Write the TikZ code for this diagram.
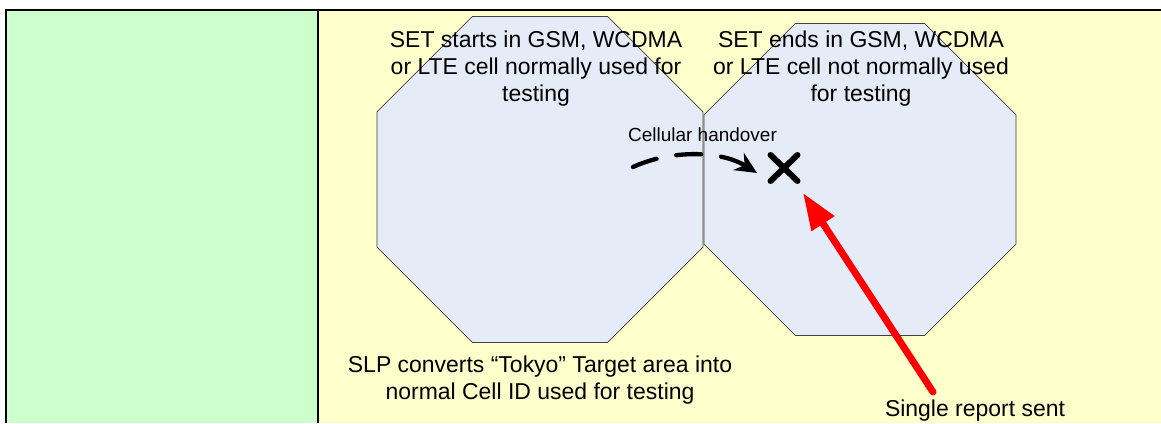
\documentclass[tikz,border=0pt]{standalone}
\usepackage{fontspec}
\setmainfont{Liberation Sans}
\usetikzlibrary{shapes.geometric,shapes.misc,arrows.meta}
\definecolor{cellfill}{HTML}{E5EBF7}
\definecolor{stepgreen}{HTML}{CCFFCC}
\definecolor{stepyellow}{HTML}{FFFFCC}

\begin{document}
\begin{tikzpicture}[x=0.03cm,y=-0.03cm,
    cell/.style={regular polygon,regular polygon sides=8,draw=black!75,fill=cellfill,inner sep=0pt,outer sep=0pt,line width=0.6pt},
    note/.style={align=center,inner sep=0pt,font=\fontsize{19.6}{23}\selectfont}]

    \useasboundingbox (0,0) rectangle (1161,423);

    % table row
    \fill[stepyellow] (6,10) rectangle (1161,423);
    \fill[stepgreen] (6,10) rectangle (318,423);
    \draw[line width=0.06cm] (1161,10) -- (6,10) -- (6,423);
    \draw[line width=0.06cm] (318,10) -- (318,423);

    % cells
    \node[cell, minimum size=10.59cm] (startcell) at (540,179.5) {};
    \node[cell, minimum size=10.13cm] (endcell) at (860,179.5) {};

    \node[note] (starttext) at (536,69) {SET starts in GSM, WCDMA\\or LTE cell normally used for\\testing};
    \node[note] (endtext) at (861,69) {SET ends in GSM, WCDMA\\or LTE cell not normally used\\for testing};
    \node[note] (slptext) at (540,380) {SLP converts “Tokyo” Target area into\\normal Cell ID used for testing};
    \node[note] (reporttext) at (975,411) {Single report sent};
    \node[inner sep=0pt, font=\fontsize{16.2}{19}\selectfont] (hotext) at (702.5,135) {Cellular handover};

    % SET position
    \node[cross out, draw, line width=0.18cm, line cap=round, minimum width=0.81cm, minimum height=0.78cm, inner sep=0pt, outer sep=0pt] (setX) at (784,168) {};

    \coordinate (hostart) at (633,167);
    \coordinate (reportstart) at (933,392);

    \draw[line width=0.13cm, line cap=round, dash pattern=on 0.75cm off 0.6cm, -{Stealth[length=0.65cm,width=0.6cm]}]
        (hostart) .. controls (670,150) and (720,150) .. ([xshift=-0.405cm,yshift=-0.15cm]setX.west);
    \draw[red, line width=0.21cm, line cap=round, -{Triangle[length=1.1cm,width=0.77cm]}]
        (reportstart) -- ([xshift=0.165cm,yshift=-0.36cm]setX.south east);
\end{tikzpicture}
\end{document}
